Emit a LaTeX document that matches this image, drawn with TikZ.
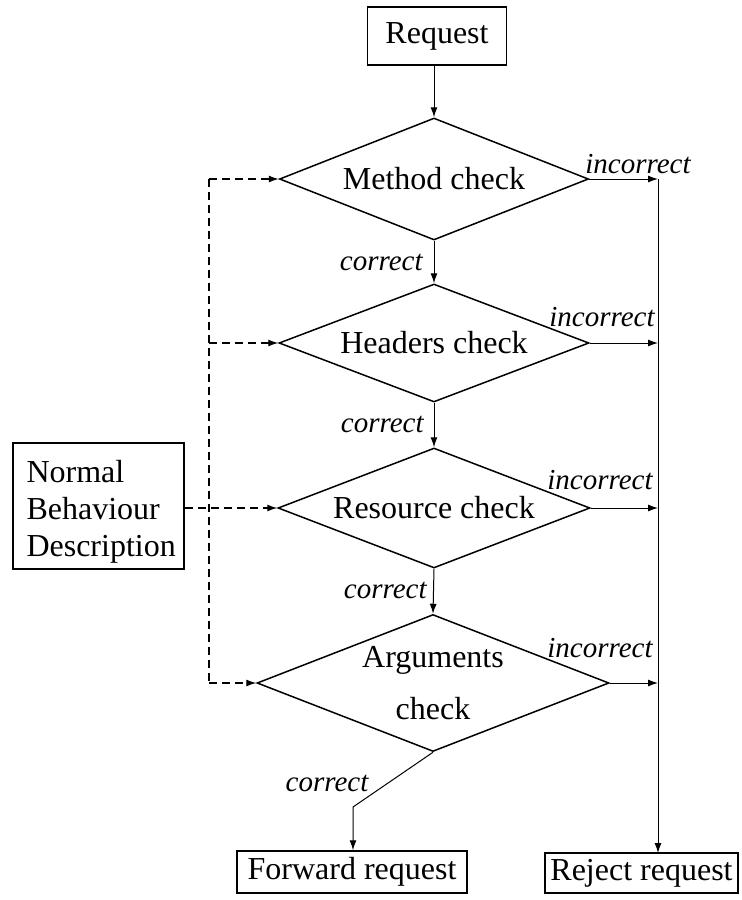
\documentclass[tikz,border=0pt]{standalone}
\usepackage{fontspec}
\setmainfont{Liberation Serif}
\usetikzlibrary{shapes.geometric,arrows.meta}
\begin{document}
\begin{tikzpicture}[x=0.5pt,y=-0.5pt,
  box/.style={draw, line width=0.75pt, inner sep=0pt, font=\fontsize{16}{18.5}\selectfont},
  test/.style={draw, diamond, line width=0.75pt, inner sep=0pt, aspect=2.5,
    align=center, font=\fontsize{16}{26}\selectfont},
  flow/.style={-{Latex[length=5pt,width=3.5pt]}, line width=0.5pt},
  feedline/.style={line width=0.6pt, dash pattern=on 4pt off 2.5pt},
  feed/.style={feedline, -{Latex[length=5pt,width=3.5pt]}},
  lbl/.style={font=\fontsize{14.5}{17}\selectfont\itshape, inner sep=0pt}
]
\useasboundingbox (0,0) rectangle (741,900);

% main chain of checks
\node[box, minimum width=69.5pt, minimum height=29pt] (req) at (437,36) {Request};
\node[test, minimum width=154.5pt, minimum height=61pt] (d1) at (434,179) {Method check};
\node[test, minimum width=155pt, minimum height=59pt] (d2) at (434,343) {Headers check};
\node[test, minimum width=156pt, minimum height=60pt] (d3) at (434,508) {Resource check};
\node[test, minimum width=176pt, minimum height=68.5pt] (d4) at (433,683) {Arguments\\check};

% outcomes
\node[box, minimum width=115pt, minimum height=21pt] (fwd) at (352,872) {Forward request};
\node[box, minimum width=96.5pt, minimum height=20pt] (rej) at (641.5,873) {Reject request};

% specification of normal behaviour
\node[box, minimum width=85.5pt, minimum height=63pt] (nbd) at (98.5,506) {};
\node[font=\fontsize{16}{18.5}\selectfont, inner sep=0pt, text width=73pt, align=left]
  (nbdtext) at (99.5,512) {Normal\\Behaviour\\Description};

% reject bus
\coordinate (bus1) at (658,179);
\coordinate (bus2) at (658,343);
\coordinate (bus3) at (658,508);
\coordinate (bus4) at (658,683);
\coordinate (busend) at (658,853);

% feed bus
\coordinate (f1) at (209,179);
\coordinate (f2) at (209,343);
\coordinate (f4) at (209,683);

% correct path
\draw[flow] (d1.north |- req.south) -- (d1.north);
\draw[flow] (d1.south) -- (d2.north);
\draw[flow] (d2.south) -- (d3.north);
\draw[flow] (d3.south) -- (d4.north);
\coordinate (bend) at (353,807);
\draw[flow] (d4.south) -- (bend) -- (bend |- fwd.north);

\node[lbl, anchor=east] at (423,262) {correct};
\node[lbl, anchor=east] at (424,424) {correct};
\node[lbl, anchor=east] at (427,590) {correct};
\node[lbl] at (327,783) {correct};

% incorrect path
\draw[flow] (d1.east) -- (bus1);
\draw[flow] (d2.east) -- (bus2);
\draw[flow] (d3.east) -- (bus3);
\draw[flow] (d4.east) -- (bus4);
\draw[flow] (bus1) -- (busend);

\node[lbl] at (638,164) {incorrect};
\node[lbl] at (602,317) {incorrect};
\node[lbl] at (600,480) {incorrect};
\node[lbl] at (600,648) {incorrect};

% behaviour description feeding each check
\draw[feedline] (f1) -- (f4);
\draw[feed] (f1) -- (d1.west);
\draw[feed] (f2) -- (d2.west);
\draw[feed] (nbd.east |- d3.west) -- (d3.west);
\draw[feed] (f4) -- (d4.west);
\end{tikzpicture}
\end{document}
